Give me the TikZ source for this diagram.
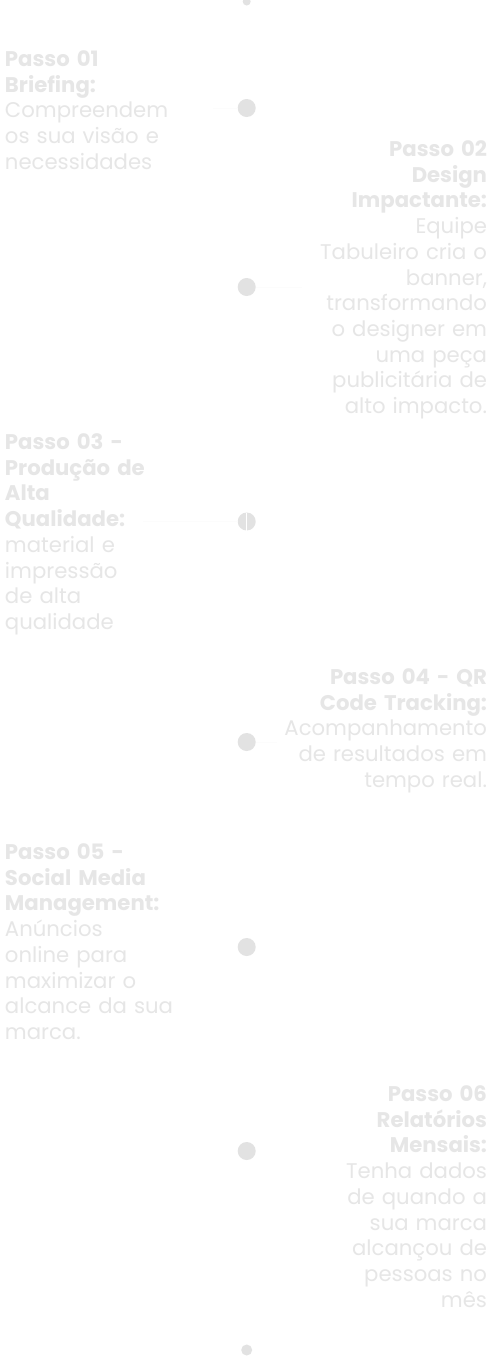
\documentclass[tikz,border=0pt]{standalone}
\usepackage{fontspec}
\setmainfont{Poppins}
\usetikzlibrary{positioning}
\definecolor{mist}{HTML}{E6E6E6}
\definecolor{pebble}{HTML}{E2E2E2}
\definecolor{haze}{HTML}{FCFCFC}

\begin{document}
\begin{tikzpicture}[
    x=1pt, y=-1pt,
    every node/.style={inner sep=0pt, outer sep=0pt},
    steptext/.style={text=mist, font=\fontsize{21.2}{25.7}\selectfont, text width=240pt},
    leftstep/.style={steptext, align=left, anchor=base west},
    rightstep/.style={steptext, align=right, anchor=base east},
    dot/.style={circle, fill=pebble, minimum size=18pt},
    link/.style={haze, line width=0.6pt},
]

% --- Canvas ---
\fill[white] (0,0) rectangle (501,1360);
\useasboundingbox (0,0) rectangle (501,1360);

% --- Timeline ends ---
\node[circle, fill=pebble, minimum size=8pt] (dtop) at (246.7,1.5) {};
\node[circle, fill=pebble, minimum size=11pt] (dbot) at (246.7,1350) {};

% --- Timeline dots ---
\node[dot] (d1) at (246.7,108) {};
\node[dot] (d2) at (246.7,287) {};
\node[dot] (d3) at (246.7,521.5) {};
\node[dot] (d4) at (246.7,742) {};
\node[dot] (d5) at (246.7,947) {};
\node[dot] (d6) at (246.7,1151) {};

% split in the third dot
\draw[white, line width=1.3pt] (d3.north) -- (d3.south);

% faint ties towards the texts
\draw[link] (d1.west) -- ++(-25,0);
\draw[link] (d2.east) -- ++(46,0);
\draw[link] (d3.west) -- ++(-95,0);
\draw[link] (d4.east) -- ++(21,0);

% --- Step 01 ---
\node[leftstep] (s1) at (5,66.5)
    {\textbf{Passo 01}\\ \textbf{Briefing:}\\ Compreendem\\ os sua visão e\\ necessidades};

% --- Step 02 ---
\node[rightstep] (s2) at (487,156.5)
    {\textbf{Passo 02}\\ \textbf{Design}\\ \textbf{Impactante:}\\ Equipe\\ Tabuleiro cria o\\ banner,\\
     transformando\\ o designer em\\ uma peça\\ publicitária de\\ alto impacto.};

% --- Step 03 ---
\node[leftstep] (s3) at (5,449.5)
    {\textbf{Passo 03 -}\\ \textbf{Produção de}\\ \textbf{Alta}\\ \textbf{Qualidade:}\\ material e\\
     impressão\\ de alta\\ qualidade};

% --- Step 04 ---
\node[rightstep] (s4) at (487,684.5)
    {\textbf{Passo 04 - QR}\\ \textbf{Code Tracking:}\\ Acompanhamento\\ de resultados em\\ tempo real.};

% --- Step 05 ---
\node[leftstep] (s5) at (5,859.5)
    {\textbf{Passo 05 -}\\ \textbf{Social Media}\\ \textbf{Management:}\\ Anúncios\\ online para\\
     maximizar o\\ alcance da sua\\ marca.};

% --- Step 06 ---
\node[rightstep] (s6) at (487,1101.5)
    {\textbf{Passo 06}\\ \textbf{Relatórios}\\ \textbf{Mensais:}\\ Tenha dados\\ de quando a\\ sua marca\\
     alcançou de\\ pessoas no\\ mês};

\end{tikzpicture}
\end{document}
